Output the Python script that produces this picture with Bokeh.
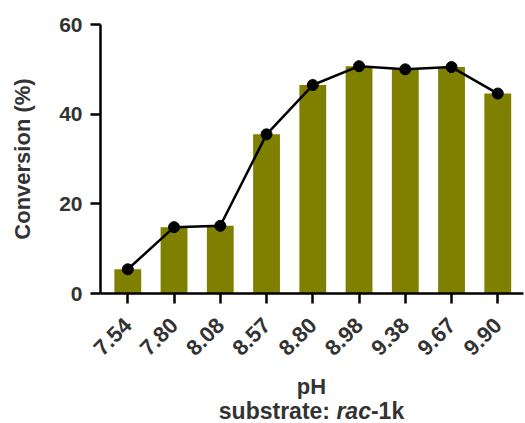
from bokeh.plotting import figure
from bokeh.layouts import column
from bokeh.models import FixedTicker, Range1d, ColumnDataSource, Div
from bokeh.embed import file_html
from bokeh.resources import INLINE
import math

# ---- data ----
ph_labels = ["7.54", "7.80", "8.08", "8.57", "8.80", "8.98", "9.38", "9.67", "9.90"]
conversion = [5.4, 14.8, 15.1, 35.5, 46.5, 50.7, 50.0, 50.5, 44.6]
y_ticks = [0, 20, 40, 60]
x_title = "pH"
subtitle_parts = ["substrate: ", "rac", "-1k"]

idx = list(range(len(ph_labels)))
src = ColumnDataSource(dict(x=idx, y=conversion, lab=ph_labels))

FONT = "Liberation Sans"
TXT = "#333333"
OLIVE = "#808000"

W = 525
H1, H2 = 365, 58
ML, MT, MR = 100, 24, 2
MB = H1 - MT - 269
x0, x1 = -0.59, 8.556
p = figure(width=W, height=H1, output_backend="svg", toolbar_location=None,
           x_range=Range1d(x0, x1), y_range=Range1d(0, 60),
           min_border_left=ML, min_border_top=MT, min_border_bottom=MB, min_border_right=MR)
p.outline_line_color = None
p.grid.visible = False

p.vbar(x="x", top="y", width=0.58, source=src, fill_color=OLIVE, line_color=None)
p.line(x="x", y="y", source=src, line_color="black", line_width=2.5)
p.scatter(x="x", y="y", source=src, size=11, fill_color="black", line_color="black")

for ax in (p.xaxis[0], p.yaxis[0]):
    ax.axis_line_width = 2.5
    ax.axis_line_color = "black"
    ax.major_tick_line_width = 2.5
    ax.major_tick_line_color = "black"
    ax.major_tick_out = 10
    ax.major_tick_in = 0
    ax.minor_tick_line_color = None
    ax.major_label_text_font = FONT
    ax.major_label_text_font_style = "bold"
    ax.major_label_text_color = TXT

p.yaxis.major_label_text_font_size = "21px"
p.yaxis.major_label_standoff = 8
p.yaxis.ticker = FixedTicker(ticks=y_ticks)
p.yaxis.axis_label = "Conversion (%)"
p.yaxis.axis_label_text_font = FONT
p.yaxis.axis_label_text_font_style = "bold"
p.yaxis.axis_label_text_font_size = "22px"
p.yaxis.axis_label_text_color = TXT
p.yaxis.axis_label_standoff = 21

p.xaxis.ticker = FixedTicker(ticks=idx)
p.xaxis.major_label_overrides = {i: l for i, l in zip(idx, ph_labels)}
p.xaxis.major_label_orientation = math.pi / 4
p.xaxis.major_label_text_font_size = "22px"
p.xaxis.major_label_standoff = 18

# ---- x-axis titles in an HTML strip below the chart ----
fw = W - ML - MR
common = (f"position:absolute; left:{ML}px; width:{fw}px; text-align:center; "
          f"font-family:'{FONT}'; font-weight:bold; color:{TXT}; white-space:nowrap;")
html = (
    f"<div style=\"position:relative; width:{W}px; height:{H2}px;\">"
    f"<div style=\"{common} top:11px; font-size:22px; line-height:22px;\">{x_title}</div>"
    f"<div style=\"{common} top:35px; font-size:23px; line-height:23px;\">"
    f"{subtitle_parts[0]}<i>{subtitle_parts[1]}</i>{subtitle_parts[2]}</div>"
    f"</div>"
)
d = Div(text=html, width=W, height=H2, margin=0)

layout = column(p, d, spacing=0)
open("out.html", "w").write(file_html(layout, INLINE))
